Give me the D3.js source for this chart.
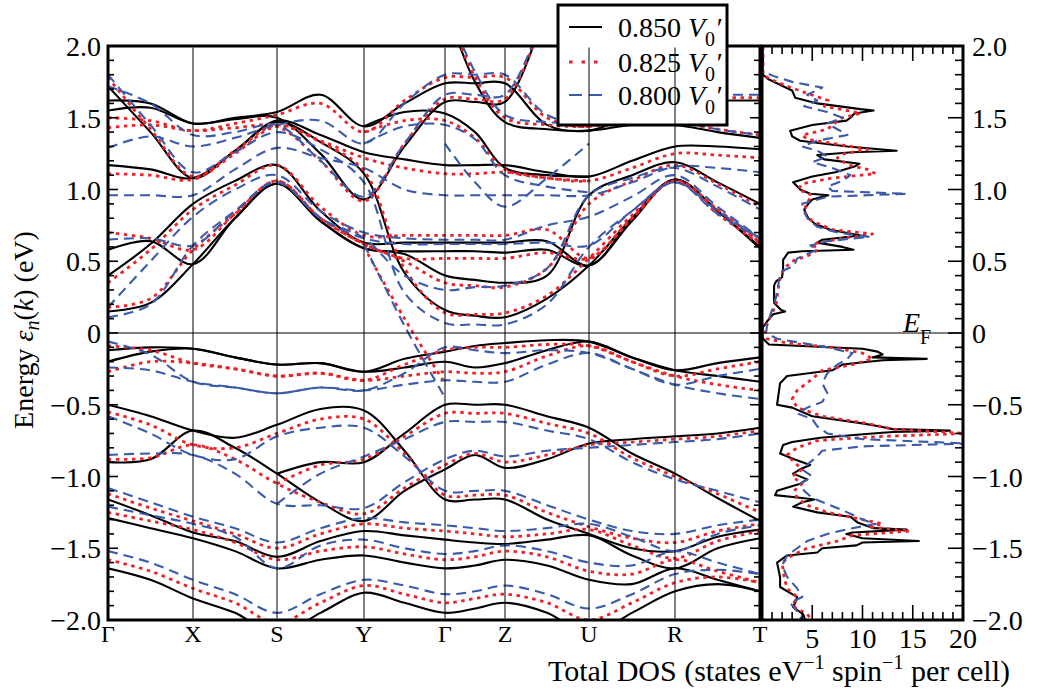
<!DOCTYPE html>
<html><head><meta charset="utf-8">
<script src="https://cdn.jsdelivr.net/npm/d3@7/dist/d3.min.js"></script>
<style>body{margin:0;background:#fff}svg{display:block}text{font-family:"Liberation Serif","Times New Roman",serif;fill:#000}</style>
</head><body>
<svg id="c" width="1038" height="698"></svg>
<script>
const N = null;
const kLabels = ["Γ","X","S","Y","Γ","Z","U","R","T"];
const kDist = [0,0.85,1.69,2.56,3.37,3.97,4.81,5.67,6.52];
const eTicks = [2.0,1.5,1.0,0.5,0,-0.5,-1.0,-1.5,-2.0];
const eTickLabels = ["2.0","1.5","1.0","0.5","0","\u22120.5","\u22121.0","\u22121.5","\u22122.0"];
const dosTicks = [5,10,15,20];
const seriesNames = ["0.850","0.825","0.800"];

// band energies at Γ, mid, X, mid, S, mid, Y, mid, Γ, mid, Z, mid, U, mid, R, mid, T
const bands850 = [
 [1.72,1.40,1.08,1.27,1.47,1.33,1.11,0.42,0.16,0.12,0.11,0.24,0.47,0.80,1.07,0.85,0.59],
 [1.17,1.14,1.08,1.27,1.48,1.38,1.26,1.21,1.17,1.17,1.17,1.12,1.09,1.20,1.30,1.30,1.28],
 [1.62,1.60,1.46,1.50,1.54,1.66,1.44,1.60,1.74,1.74,1.74,1.45,1.41,1.52,1.62,1.62,1.62],
 [1.55,1.57,1.46,1.49,1.50,1.25,0.93,1.30,1.61,1.61,1.61,2.30,N,N,N,N,N],
 [0.40,0.62,0.90,1.06,1.17,0.85,0.63,0.63,0.63,0.63,0.63,0.64,0.47,0.80,1.07,0.85,0.60],
 [0.58,0.64,0.48,0.80,1.04,0.78,0.59,0.57,0.57,0.57,0.56,0.58,0.47,0.78,1.07,0.85,0.59],
 [0.15,0.21,0.48,0.80,1.04,0.78,0.59,0.55,0.40,0.37,0.35,0.40,0.96,1.10,1.19,1.05,0.90],
 [N,N,N,N,N,N,1.44,1.54,1.53,1.40,1.15,1.10,1.09,N,N,N,N],
 [N,N,N,N,N,N,N,N,2.30,1.75,1.47,1.42,1.41,1.45,1.45,1.40,1.36],
 [-0.12,-0.10,-0.11,-0.17,-0.22,-0.21,-0.27,-0.18,-0.13,-0.09,-0.07,-0.05,-0.06,-0.17,-0.26,-0.21,-0.17],
 [-0.20,-0.13,-0.11,-0.17,-0.22,-0.21,-0.27,-0.24,-0.20,-0.24,-0.21,-0.12,-0.06,-0.17,-0.26,-0.30,-0.34],
 [-0.50,-0.58,-0.68,-0.73,-0.64,-0.53,-0.54,-0.82,-1.16,-1.16,-1.16,-1.30,-1.40,-1.50,-1.52,-1.42,-1.37],
 [-0.90,-0.88,-0.68,-0.80,-0.98,-1.18,-1.31,-1.10,-0.95,-0.85,-0.94,-0.88,-0.77,-0.74,-0.72,-0.70,-0.66],
 [-1.16,-1.27,-1.39,-1.45,-1.56,-1.45,-1.38,-1.41,-1.44,-1.46,-1.47,-1.44,-1.41,-1.55,-1.64,-1.50,-1.43],
 [-1.29,-1.36,-1.43,-1.52,-1.64,-1.58,-1.55,-1.60,-1.64,-1.62,-1.58,-1.62,-1.72,-1.75,-1.64,-1.72,-1.80],
 [N,N,N,N,-0.98,-0.90,-0.90,-0.70,-0.50,-0.50,-0.50,-0.58,-0.66,-0.84,-0.98,-1.15,-1.31],
 [-1.64,-1.72,-1.85,-1.95,-2.10,-1.95,-1.81,-1.88,-1.95,-1.92,-1.88,-1.95,-2.10,-1.95,-1.80,-1.75,-1.80]
];
const bands825 = [
 [1.78,1.42,1.09,1.27,1.45,1.33,1.13,0.45,0.14,0.13,0.14,0.26,0.52,0.82,1.06,0.83,0.62],
 [1.11,1.10,1.07,1.25,1.44,1.34,1.22,1.15,1.11,1.11,1.12,1.08,1.06,1.15,1.25,1.24,1.22],
 [1.50,1.48,1.41,1.46,1.52,1.60,1.40,1.62,1.78,1.78,1.78,1.50,1.44,1.55,1.64,1.64,1.64],
 [1.43,1.45,1.41,1.43,1.44,1.20,0.92,1.32,1.63,1.63,1.63,2.30,N,N,N,N,N],
 [0.35,0.58,0.86,1.03,1.17,0.88,0.68,0.68,0.68,0.68,0.68,0.72,0.52,0.80,1.06,0.86,0.63],
 [0.70,0.66,0.58,0.83,1.06,0.80,0.62,0.52,0.52,0.52,0.52,0.56,0.52,0.80,1.06,0.86,0.63],
 [0.18,0.24,0.58,0.83,1.06,0.80,0.62,0.50,0.35,0.33,0.32,0.45,0.90,1.06,1.17,1.04,0.88],
 [N,N,N,N,N,N,1.40,1.48,1.48,1.36,1.14,1.08,1.06,N,N,N,N],
 [N,N,N,N,N,N,N,N,2.30,1.78,1.50,1.45,1.44,1.47,1.47,1.42,1.38],
 [N,N,N,N,N,N,0.60,0.10,-0.35,N,N,N,N,N,N,N,N],
 [-0.09,-0.12,-0.21,-0.25,-0.30,-0.28,-0.33,-0.22,-0.12,-0.10,-0.10,-0.08,-0.09,-0.20,-0.30,-0.25,-0.20],
 [-0.27,-0.20,-0.21,-0.25,-0.30,-0.28,-0.33,-0.30,-0.27,-0.28,-0.27,-0.16,-0.09,-0.20,-0.30,-0.36,-0.40],
 [-0.55,-0.64,-0.78,-0.80,-0.70,-0.60,-0.60,-0.84,-1.13,-1.13,-1.13,-1.25,-1.35,-1.43,-1.46,-1.38,-1.33],
 [-0.88,-0.87,-0.78,-0.88,-1.05,-1.18,-1.26,-1.08,-0.92,-0.84,-0.90,-0.85,-0.78,-0.76,-0.74,-0.72,-0.68],
 [-1.12,-1.22,-1.31,-1.40,-1.50,-1.40,-1.33,-1.36,-1.38,-1.40,-1.42,-1.40,-1.37,-1.48,-1.57,-1.45,-1.38],
 [-1.25,-1.31,-1.37,-1.46,-1.58,-1.52,-1.49,-1.54,-1.58,-1.56,-1.52,-1.56,-1.66,-1.68,-1.58,-1.66,-1.74],
 [N,N,N,N,-1.05,-0.92,-0.88,-0.72,-0.56,-0.56,-0.56,-0.63,-0.70,-0.87,-1.00,-1.12,-1.25],
 [-1.58,-1.66,-1.78,-1.88,-2.02,-1.88,-1.76,-1.82,-1.88,-1.85,-1.82,-1.88,-2.00,-1.88,-1.74,-1.70,-1.74]
];
const bands800 = [
 [1.80,1.45,1.12,1.26,1.40,1.28,1.05,0.28,0.07,0.06,0.06,0.20,0.60,0.85,1.05,0.83,0.66],
 [0.96,0.96,0.96,1.14,1.29,1.22,1.15,1.00,0.96,0.96,0.96,0.96,0.96,1.05,1.16,1.15,1.12],
 [1.29,1.37,1.30,1.36,1.45,1.48,1.32,1.60,1.80,1.80,1.80,1.52,1.46,1.56,1.66,1.66,1.66],
 [1.72,1.60,1.38,1.40,1.45,1.20,0.95,1.32,1.66,1.66,1.66,2.30,N,N,N,N,N],
 [0.18,0.50,0.81,1.00,1.10,0.85,0.70,0.66,0.65,0.65,0.65,0.75,0.81,0.95,1.10,0.88,0.66],
 [0.65,0.66,0.61,0.85,1.05,0.80,0.66,0.62,0.62,0.62,0.62,0.63,0.61,0.85,1.05,0.85,0.66],
 [0.11,0.20,0.61,0.85,1.05,0.80,0.66,0.40,0.30,0.32,0.33,0.45,0.96,1.08,1.15,1.02,0.86],
 [N,N,N,N,N,N,1.32,1.44,1.45,1.35,1.10,1.02,0.98,N,N,N,N],
 [N,N,N,N,N,N,N,N,2.30,1.82,1.52,1.47,1.46,1.48,1.48,1.42,1.38],
 [N,N,N,N,N,N,N,N,1.32,1.05,0.88,1.08,1.32,N,N,N,N],
 [N,N,N,N,N,N,0.62,0.05,-0.45,N,N,N,N,N,N,N,N],
 [-0.06,-0.15,-0.34,-0.38,-0.42,-0.38,-0.40,-0.28,-0.10,-0.12,-0.14,-0.12,-0.14,-0.25,-0.36,-0.30,-0.25],
 [-0.24,-0.26,-0.34,-0.38,-0.42,-0.38,-0.40,-0.36,-0.33,-0.34,-0.34,-0.22,-0.14,-0.25,-0.36,-0.42,-0.46],
 [-0.58,-0.70,-0.85,-0.88,-0.72,-0.66,-0.66,-0.86,-1.10,-1.10,-1.10,-1.20,-1.30,-1.38,-1.40,-1.34,-1.30],
 [-0.85,-0.84,-0.85,-0.98,-1.19,-1.20,-1.22,-1.04,-0.88,-0.82,-0.86,-0.82,-0.80,-0.78,-0.76,-0.74,-0.70],
 [-1.08,-1.18,-1.28,-1.36,-1.46,-1.36,-1.29,-1.32,-1.34,-1.36,-1.38,-1.36,-1.33,-1.42,-1.52,-1.40,-1.34],
 [-1.21,-1.27,-1.33,-1.42,-1.64,-1.48,-1.44,-1.50,-1.54,-1.52,-1.48,-1.52,-1.60,-1.62,-1.52,-1.60,-1.68],
 [N,N,N,N,-1.19,-0.98,-0.86,-0.74,-0.62,-0.62,-0.62,-0.68,-0.74,-0.90,-1.02,-1.10,-1.18],
 [-1.52,-1.60,-1.72,-1.82,-1.95,-1.82,-1.72,-1.76,-1.82,-1.80,-1.76,-1.82,-1.92,-1.82,-1.68,-1.65,-1.68]
];

// DOS: [energy, states]
const dos850 = [[2.0,0.1],[1.80,0.1],[1.77,0.6],[1.72,2.1],[1.69,3.0],[1.64,3.3],[1.60,5.5],[1.56,9.8],[1.55,11.1],[1.53,9.2],[1.50,8.8],[1.48,8.4],[1.45,5.0],[1.41,2.8],[1.37,3.0],[1.34,3.8],[1.30,8.5],[1.27,13.4],[1.26,9.0],[1.24,5.5],[1.21,6.2],[1.18,9.7],[1.16,9.2],[1.12,7.3],[1.09,5.0],[1.05,3.1],[1.00,3.8],[0.97,4.8],[0.96,6.6],[0.93,5.0],[0.90,4.6],[0.86,4.2],[0.80,4.6],[0.76,5.3],[0.72,6.8],[0.68,9.8],[0.65,6.0],[0.63,5.5],[0.60,8.0],[0.58,9.1],[0.57,4.0],[0.56,2.6],[0.51,2.1],[0.45,2.1],[0.39,2.0],[0.36,1.4],[0.33,1.2],[0.21,1.2],[0.16,1.9],[0.15,2.3],[0.13,1.1],[0.08,0.5],[0.04,0.1],[0.0,0.0],[-0.04,0.1],[-0.08,0.7],[-0.11,10.0],[-0.13,11.5],[-0.15,12.0],[-0.17,11.0],[-0.18,16.4],[-0.19,12.0],[-0.22,8.0],[-0.26,7.0],[-0.30,2.5],[-0.35,1.8],[-0.45,1.6],[-0.50,1.5],[-0.52,3.0],[-0.58,5.0],[-0.63,10.0],[-0.65,11.6],[-0.67,13.0],[-0.68,18.7],[-0.69,13.0],[-0.70,11.0],[-0.73,5.8],[-0.76,3.0],[-0.78,2.1],[-0.84,1.8],[-0.88,3.2],[-0.92,4.8],[-0.95,3.8],[-0.98,3.1],[-1.02,4.5],[-1.05,3.8],[-1.10,1.5],[-1.13,1.3],[-1.15,4.0],[-1.16,5.2],[-1.18,4.0],[-1.21,3.1],[-1.25,5.5],[-1.28,8.8],[-1.32,9.5],[-1.36,11.1],[-1.37,14.4],[-1.39,9.0],[-1.40,8.4],[-1.43,10.0],[-1.45,15.6],[-1.46,10.0],[-1.48,9.4],[-1.50,6.0],[-1.53,5.5],[-1.55,2.5],[-1.60,1.5],[-1.70,1.8],[-1.77,1.8],[-1.82,3.0],[-1.84,3.5],[-1.88,3.3],[-1.91,3.1],[-1.96,4.1],[-2.0,4.3]];
const dos825 = [[2.0,0.1],[1.80,0.1],[1.77,0.8],[1.72,2.5],[1.67,4.5],[1.62,6.6],[1.58,6.2],[1.55,8.5],[1.53,9.8],[1.50,8.0],[1.46,7.2],[1.42,6.5],[1.38,4.0],[1.35,4.5],[1.31,8.0],[1.28,10.5],[1.25,8.2],[1.22,7.5],[1.17,8.6],[1.14,10.5],[1.11,11.3],[1.08,7.0],[1.04,4.0],[1.00,3.6],[0.96,5.0],[0.90,4.4],[0.84,4.2],[0.78,5.0],[0.72,7.0],[0.69,11.0],[0.66,8.0],[0.62,5.0],[0.58,5.6],[0.54,4.6],[0.50,3.0],[0.45,2.2],[0.38,1.8],[0.30,1.6],[0.20,1.4],[0.12,0.9],[0.05,0.4],[0.0,0.2],[-0.04,0.5],[-0.07,2.5],[-0.10,7.0],[-0.14,10.0],[-0.18,11.0],[-0.22,9.0],[-0.26,6.0],[-0.32,5.0],[-0.40,3.5],[-0.46,3.0],[-0.52,3.5],[-0.58,6.0],[-0.63,10.5],[-0.67,13.0],[-0.70,20.5],[-0.72,12.0],[-0.75,5.5],[-0.80,3.5],[-0.85,2.5],[-0.90,3.2],[-0.95,4.0],[-1.00,3.0],[-1.05,4.0],[-1.10,3.2],[-1.15,3.5],[-1.20,4.5],[-1.25,6.5],[-1.30,10.0],[-1.33,12.0],[-1.35,10.5],[-1.38,14.7],[-1.41,9.0],[-1.45,7.5],[-1.50,4.5],[-1.55,3.0],[-1.60,2.0],[-1.70,2.2],[-1.78,2.5],[-1.84,3.5],[-1.90,3.0],[-1.96,4.5],[-2.0,5.0]];
const dos800 = [[2.0,0.1],[1.82,0.1],[1.79,1.2],[1.75,3.0],[1.71,6.0],[1.66,4.5],[1.62,5.5],[1.58,4.2],[1.54,6.5],[1.50,8.0],[1.46,6.5],[1.42,7.5],[1.38,8.5],[1.34,5.5],[1.30,4.0],[1.27,5.5],[1.23,6.5],[1.19,5.0],[1.15,7.0],[1.10,8.8],[1.06,8.0],[1.02,6.5],[0.99,7.0],[0.97,14.4],[0.95,6.5],[0.90,4.0],[0.85,4.2],[0.80,4.5],[0.74,5.5],[0.70,7.5],[0.67,10.7],[0.64,6.5],[0.61,4.8],[0.58,5.5],[0.52,3.5],[0.47,3.2],[0.43,2.0],[0.40,1.8],[0.33,1.6],[0.25,1.4],[0.18,1.1],[0.12,0.8],[0.05,0.5],[0.0,0.4],[-0.04,1.5],[-0.07,4.0],[-0.10,6.5],[-0.14,9.0],[-0.18,8.5],[-0.22,7.5],[-0.28,6.5],[-0.35,6.0],[-0.42,6.5],[-0.48,6.0],[-0.52,4.5],[-0.56,3.5],[-0.60,5.0],[-0.65,5.5],[-0.70,6.5],[-0.74,10.0],[-0.77,20.5],[-0.79,10.0],[-0.82,6.0],[-0.86,5.5],[-0.90,4.8],[-0.95,4.0],[-1.00,5.0],[-1.05,3.8],[-1.10,4.2],[-1.15,5.0],[-1.20,6.8],[-1.25,8.5],[-1.30,10.0],[-1.33,11.3],[-1.36,9.0],[-1.40,6.5],[-1.45,4.5],[-1.50,3.5],[-1.55,2.5],[-1.62,2.0],[-1.70,2.5],[-1.78,3.5],[-1.84,4.0],[-1.88,2.8],[-1.94,3.5],[-2.0,4.0]];

const svg = d3.select("#c");
const L = 108, R = 760, DL = 762, DR = 963, T = 46, B = 620;
const x = d3.scaleLinear().domain([0, kDist[kDist.length-1]]).range([L, R]);
const y = d3.scaleLinear().domain([-2, 2]).range([B, T]);
const xd = d3.scaleLinear().domain([0, 20]).range([DL, DR]);

const kGrid = [];
for (let i = 0; i < kDist.length - 1; i++) { kGrid.push(kDist[i], (kDist[i] + kDist[i+1]) / 2); }
kGrid.push(kDist[kDist.length-1]);

const defs = svg.append("defs");
defs.append("clipPath").attr("id","cb").append("rect").attr("x",L).attr("y",T).attr("width",R-L).attr("height",B-T);
defs.append("clipPath").attr("id","cd").append("rect").attr("x",DL).attr("y",T).attr("width",DR-DL).attr("height",B-T);

const styles = [
  {stroke:"#000", w:2.1, dash:null},
  {stroke:"#ec2228", w:2.8, dash:"3.5,4.5"},
  {stroke:"#3b5aa9", w:2.1, dash:"10,6"}
];
const bandSets = [bands850, bands825, bands800];
const dosSets = [dos850, dos825, dos800];

const line = d3.line().defined(d => d[1] !== null)
  .x(d => x(d[0])).y(d => y(d[1])).curve(d3.curveCatmullRom.alpha(0.5));
const gB = svg.append("g").attr("clip-path","url(#cb)");
bandSets.forEach((set, si) => {
  const st = styles[si];
  set.forEach(b => {
    gB.append("path").attr("d", line(kGrid.map((k,i)=>[k,b[i]])))
      .attr("fill","none").attr("stroke",st.stroke).attr("stroke-width",st.w)
      .attr("stroke-dasharray",st.dash);
  });
});

const dline = d3.line().x(d => xd(d[1])).y(d => y(d[0]));
const gD = svg.append("g").attr("clip-path","url(#cd)");
dosSets.forEach((set, si) => {
  const st = styles[si];
  gD.append("path").attr("d", dline(set)).attr("fill","none")
    .attr("stroke",st.stroke).attr("stroke-width",st.w).attr("stroke-dasharray",st.dash)
    .attr("stroke-linejoin","round");
});

// zero line
svg.append("line").attr("x1",L).attr("x2",DR).attr("y1",y(0)).attr("y2",y(0))
  .attr("stroke","#000").attr("stroke-width",1.2);

// ticks
const tg = svg.append("g").attr("stroke","#000").attr("stroke-width",1.6);
d3.range(-20, 21).forEach(i => {
  const e = i / 10, major = (i % 5 === 0);
  const yy = y(e);
  tg.append("line").attr("x1",L).attr("x2",L + (major?10:6)).attr("y1",yy).attr("y2",yy);
  tg.append("line").attr("x1",R).attr("x2",R - (major?10:6)).attr("y1",yy).attr("y2",yy);
  tg.append("line").attr("x1",DR).attr("x2",DR - (major?15:8)).attr("y1",yy).attr("y2",yy);
});
d3.range(0, 21).forEach(v => {
  const major = (v % 5 === 0), xx = xd(v);
  tg.append("line").attr("x1",xx).attr("x2",xx).attr("y1",T).attr("y2",T + (major?15:8));
  tg.append("line").attr("x1",xx).attr("x2",xx).attr("y1",B).attr("y2",B - (major?15:8));
});

// frames
svg.append("rect").attr("x",L).attr("y",T).attr("width",R-L).attr("height",B-T)
  .attr("fill","none").attr("stroke","#000").attr("stroke-width",3);
svg.append("rect").attr("x",DL).attr("y",T).attr("width",DR-DL).attr("height",B-T)
  .attr("fill","none").attr("stroke","#000").attr("stroke-width",3);

// legend
const lg = svg.append("g");
lg.append("rect").attr("x",558).attr("y",5).attr("width",169).attr("height",120)
  .attr("fill","#fff").attr("stroke","#000").attr("stroke-width",3);
const legY = [27, 62, 95];
seriesNames.forEach((nm, i) => {
  const st = styles[i];
  lg.append("line").attr("x1",569).attr("x2",602).attr("y1",legY[i]).attr("y2",legY[i])
    .attr("stroke",st.stroke).attr("stroke-width",st.w).attr("stroke-dasharray", i===1 ? "3.5,9" : (i===2 ? "13,7" : null));
  const t = lg.append("text").attr("x",618).attr("y",legY[i]+10).attr("font-size",28);
  t.append("tspan").text(nm + " ");
  t.append("tspan").attr("font-style","italic").text("V");
  t.append("tspan").attr("font-size",20).attr("dy",9).text("0");
  t.append("tspan").attr("font-style","italic").attr("dy",-9).text("\u2032");
});

// k-point vertical lines (drawn over legend, as in the reference)
kDist.slice(1, -1).forEach(k => {
  svg.append("line").attr("x1",x(k)).attr("x2",x(k)).attr("y1",T+1.5).attr("y2",B-1.5)
    .attr("stroke","#000").attr("stroke-width",1);
});

// tick labels
eTicks.forEach((e, i) => {
  svg.append("text").attr("x",101).attr("y",y(e)+10).attr("text-anchor","end")
    .attr("font-size",28).text(eTickLabels[i]);
  svg.append("text").attr("x",972).attr("y",y(e)+10).attr("text-anchor","start")
    .attr("font-size",28).text(eTickLabels[i]);
});
kLabels.forEach((lab, i) => {
  svg.append("text").attr("x",x(kDist[i])).attr("y",642).attr("text-anchor","middle")
    .attr("font-size",24).text(lab);
});
dosTicks.forEach(v => {
  svg.append("text").attr("x",xd(v)).attr("y",648).attr("text-anchor","middle")
    .attr("font-size",28).text(v);
});

// axis titles
const yl = svg.append("text").attr("transform","translate(33,330) rotate(-90)")
  .attr("text-anchor","middle").attr("font-size",28);
yl.append("tspan").text("Energy ");
yl.append("tspan").attr("font-style","italic").text("\u03b5");
yl.append("tspan").attr("font-style","italic").attr("font-size",20).attr("dy",6).text("n");
yl.append("tspan").attr("dy",-6).text("(");
yl.append("tspan").attr("font-style","italic").text("k");
yl.append("tspan").text(") (eV)");

const xl = svg.append("text").attr("x",1010).attr("y",681).attr("text-anchor","end").attr("font-size",30);
xl.append("tspan").text("Total DOS (states eV");
xl.append("tspan").attr("font-size",20).attr("dy",-12).text("\u22121");
xl.append("tspan").attr("dy",12).text(" spin");
xl.append("tspan").attr("font-size",20).attr("dy",-12).text("\u22121");
xl.append("tspan").attr("dy",12).text(" per cell)");

// E_F label
const ef = svg.append("text").attr("x",903).attr("y",332).attr("font-size",28);
ef.append("tspan").attr("font-style","italic").text("E");
ef.append("tspan").attr("font-size",20).attr("dy",12).text("F");
</script>
</body></html>
